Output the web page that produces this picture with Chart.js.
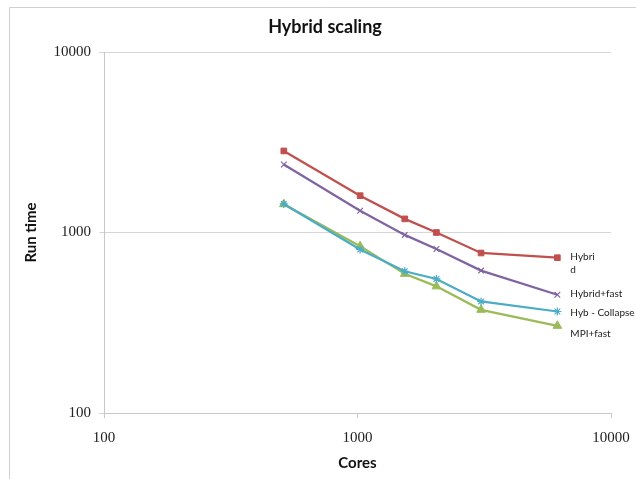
<!DOCTYPE html>
<html>
<head>
<meta charset="utf-8">
<script src="https://cdn.jsdelivr.net/npm/chart.js@4/dist/chart.umd.min.js"></script>
<style>
  html, body { margin: 0; padding: 0; background: #fff; }
  #wrap { width: 636px; height: 479px; position: relative; }
</style>
</head>
<body>
<div id="wrap"><canvas id="c" width="636" height="479"></canvas></div>
<script>
const cores = [512, 1024, 1536, 2048, 3072, 6144];
const seriesNames = ["Hybrid", "Hybrid+fast", "Hyb - Collapse", "MPI+fast"];
const hybrid      = [2830, 1600, 1190, 1000, 770, 725];
const hybridFast  = [2380, 1320, 970, 810, 615, 452];
const hybCollapse = [1440, 805, 610, 553, 415, 365];
const mpiFast     = [1435, 840, 590, 503, 373, 304];
const xTicks = [100, 1000, 10000];
const yTicks = [100, 1000, 10000];
const legendLines = [["Hybri", "d"], ["Hybrid+fast"], ["Hyb - Collapse"], ["MPI+fast"]];
const chartTitle = "Hybrid scaling";

const colors = ["#C0504D", "#8064A2", "#4BACC6", "#9BBB59"];
const markers = ["rect", "crossRot", "star", "triangle"];
const radii = [4, 4, 4, 5];
const labelOffsets = [-1, -1, 1, 8];
const allSeries = [hybrid, hybridFast, hybCollapse, mpiFast];

const datasets = allSeries.map((vals, i) => ({
  label: seriesNames[i],
  data: cores.map((c, j) => ({ x: c, y: vals[j] })),
  borderColor: colors[i],
  backgroundColor: colors[i],
  pointBackgroundColor: colors[i],
  pointBorderColor: colors[i],
  pointStyle: markers[i],
  pointRadius: radii[i],
  pointBorderWidth: (markers[i] === "rect" || markers[i] === "triangle") ? 1 : 1.2,
  borderWidth: 2.25,
  showLine: true,
  tension: 0,
  fill: false
}));

const framePlugin = {
  id: "frame",
  beforeDraw(chart) {
    const ctx = chart.ctx;
    ctx.save();
    ctx.strokeStyle = "#d0d0d0";
    ctx.lineWidth = 1;
    ctx.beginPath();
    ctx.moveTo(9.5, 479);
    ctx.lineTo(9.5, 7.5);
    ctx.lineTo(636, 7.5);
    ctx.stroke();
    ctx.font = "bold 18px Lato, sans-serif";
    ctx.fillStyle = "#111";
    ctx.textAlign = "center";
    ctx.textBaseline = "middle";
    ctx.fillText(chartTitle, 325, 27);
    ctx.restore();
  }
};

const legendPlugin = {
  id: "sideLegend",
  afterDatasetsDraw(chart) {
    const ctx = chart.ctx;
    ctx.save();
    ctx.font = "10px Lato, 'Open Sans', sans-serif";
    ctx.fillStyle = "#222";
    ctx.textBaseline = "middle";
    ctx.textAlign = "left";
    chart.data.datasets.forEach((ds, i) => {
      const meta = chart.getDatasetMeta(i);
      const last = meta.data[meta.data.length - 1];
      const x = last.x + 13;
      const y = last.y + labelOffsets[i];
      legendLines[i].forEach((t, k) => ctx.fillText(t, x, y + k * 13));
    });
    ctx.restore();
  }
};

new Chart(document.getElementById("c"), {
  type: "scatter",
  data: { datasets },
  plugins: [framePlugin, legendPlugin],
  options: {
    responsive: false,
    animation: false,
    layout: { padding: { left: 0, right: 25, top: 52, bottom: 0 } },
    plugins: {
      legend: { display: false },
      tooltip: { enabled: false },
      title: { display: false }
    },
    scales: {
      x: {
        type: "logarithmic",
        min: 100,
        max: 10000,
        afterBuildTicks(scale) { scale.ticks = xTicks.map(v => ({ value: v })); },
        afterFit(scale) { scale.height = 66; scale.paddingLeft = 0; scale.paddingRight = 0; },
        ticks: {
          color: "#222",
          font: { family: "'Liberation Serif', serif", size: 15 },
          padding: 11,
          maxRotation: 0,
          autoSkip: false,
          callback: (v) => String(v)
        },
        grid: { display: true, drawOnChartArea: false, drawTicks: true, tickLength: 5, color: "#c8c8c8" },
        border: { display: true, color: "#c8c8c8", width: 1 },
        title: {
          display: true,
          text: "Cores",
          color: "#111",
          font: { family: "Lato", size: 15, weight: "bold" },
          padding: { top: 4, bottom: 7 }
        }
      },
      y: {
        type: "logarithmic",
        min: 100,
        max: 10000,
        afterBuildTicks(scale) { scale.ticks = yTicks.map(v => ({ value: v })); },
        afterFit(scale) { scale.width = 104; scale.paddingTop = 0; scale.paddingBottom = 0; },
        ticks: {
          color: "#222",
          font: { family: "'Liberation Serif', serif", size: 15 },
          padding: 8,
          autoSkip: false,
          callback: (v) => String(v)
        },
        grid: { display: true, drawOnChartArea: true, drawTicks: true, tickLength: 5, color: "#d6d6d6" },
        border: { display: true, color: "#c8c8c8", width: 1 },
        title: {
          display: true,
          text: "Run time",
          color: "#111",
          font: { family: "Lato", size: 15, weight: "bold" },
          padding: { top: 22, bottom: 0 }
        }
      }
    }
  }
});
</script>
</body>
</html>
